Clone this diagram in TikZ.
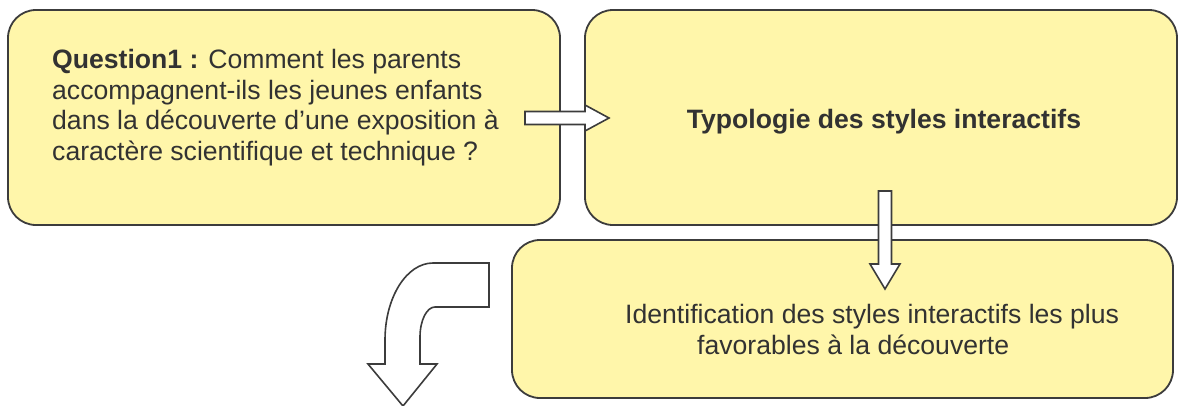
\documentclass[tikz,border=0pt]{standalone}
\usepackage{fontspec}
\setmainfont{Liberation Sans}
\definecolor{boxfill}{RGB}{255,246,170}
\definecolor{edge}{RGB}{60,60,60}
\definecolor{ink}{RGB}{50,50,50}
\begin{document}
\begin{tikzpicture}[x=1pt,y=-1pt,
  box/.style={draw=edge, line width=1.8pt, fill=boxfill, rounded corners=28pt, inner sep=0pt},
  txt/.style={text=ink, font=\fontsize{26.6}{30.5}\selectfont, inner sep=0pt, anchor=base west},
  blockarrow/.style={draw=edge, line width=1.6pt, fill=white, line join=miter}]
\useasboundingbox (0,0) rectangle (1186,405);
% boxes
\node[box, minimum width=552pt, minimum height=215pt] (q) at (284,117.5) {};
\node[box, minimum width=592pt, minimum height=215pt] (t) at (881,117.5) {};
\node[box, minimum width=661pt, minimum height=158pt] (i) at (842.5,319) {};
% texts
\node[txt] (q1) at (52,68.5) {\textbf{Question1 :} Comment les parents};
\node[txt] (q2) at (52,99) {accompagnent-ils les jeunes enfants};
\node[txt] (q3) at (52,129.5) {dans la découverte d’une exposition à};
\node[txt] (q4) at (52,160) {caractère scientifique et technique ?};
\node[txt, anchor=base, font=\bfseries\fontsize{26.6}{30.5}\selectfont] (tt) at (884,128) {Typologie des styles interactifs};
\node[txt] (i1) at (625,323) {Identification des styles interactifs les plus};
\node[txt] (i2) at (697,354) {favorables à la découverte};
% right block arrow
\draw[blockarrow] (525,111.5) -- (585,111.5) -- (585,105) -- (609,118) -- (585,131) -- (585,124.5) -- (525,124.5) -- cycle;
% down block arrow
\draw[blockarrow] (878.5,191) -- (891.5,191) -- (891.5,264) -- (900,264) -- (885,289) -- (870,264) -- (878.5,264) -- cycle;
% curved block arrow
\draw[blockarrow] (489,263) -- (433,263) .. controls (406.5,263) and (385,297.5) .. (385,340)
  -- (385,364) -- (368,364) -- (403,406) -- (437,364) -- (420,364) -- (420,337)
  .. controls (420,320.4) and (426.7,307) .. (435,307) -- (489,307) -- cycle;
\end{tikzpicture}
\end{document}
